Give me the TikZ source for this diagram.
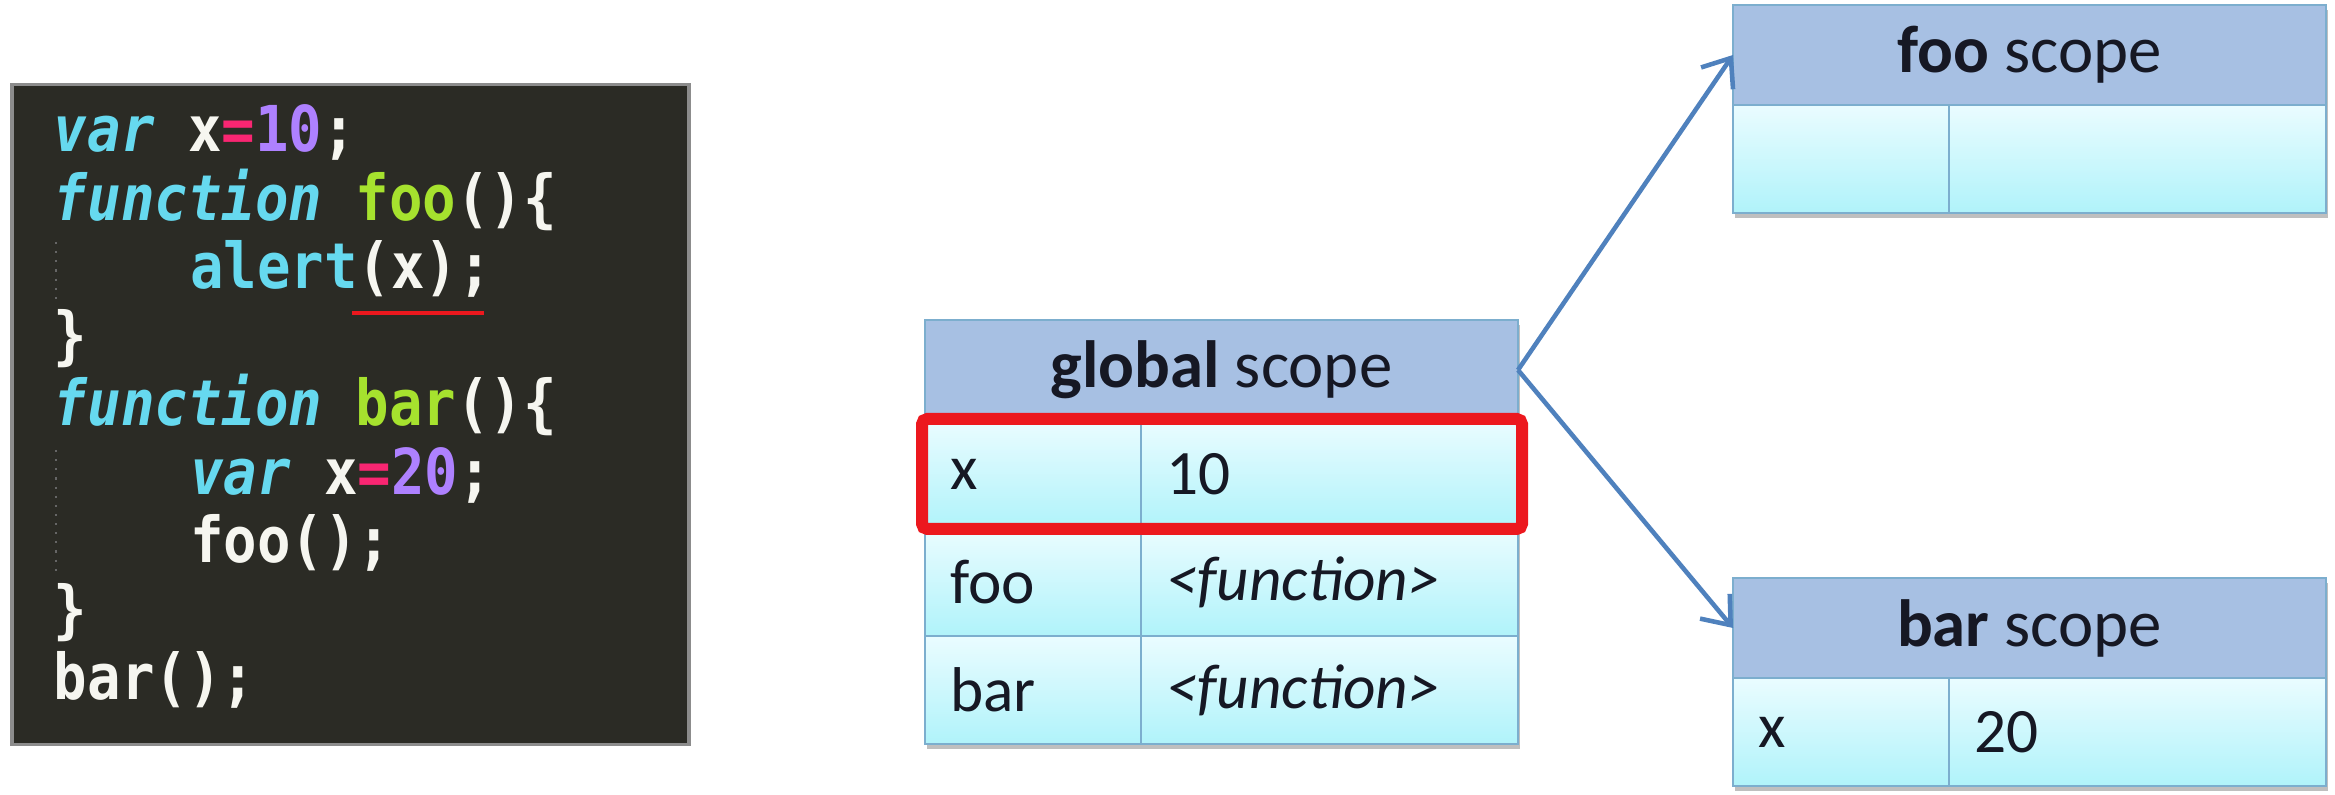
\documentclass[tikz,border=0pt]{standalone}
\usepackage{fontspec}
\usetikzlibrary{arrows.meta,shadows}
\newfontfamily\tabfont{Carlito}
\newfontfamily\codefont[FakeStretch=0.88,
  BoldFont={DejaVu Sans Mono Bold},
  ItalicFont={DejaVu Sans Mono Oblique},
  BoldItalicFont={DejaVu Sans Mono Bold Oblique}]{DejaVu Sans Mono}
% colours of the editor
\definecolor{codebg}{RGB}{43,43,37}
\definecolor{codewhite}{RGB}{246,246,240}
\definecolor{codekw}{RGB}{102,217,239}
\definecolor{codefn}{RGB}{166,226,46}
\definecolor{codeop}{RGB}{249,38,114}
\definecolor{codenum}{RGB}{174,129,255}
% colours of the tables
\definecolor{hdrblue}{RGB}{167,192,227}
\definecolor{celltop}{RGB}{234,252,255}
\definecolor{cellbot}{RGB}{176,243,250}
\definecolor{cellline}{RGB}{124,174,206}
\definecolor{celltext}{RGB}{22,24,36}
\definecolor{ptrblue}{RGB}{79,129,189}
\definecolor{hired}{RGB}{236,24,30}
\tikzset{
  codepanel/.style={anchor=north west, fill=codebg, draw=black!45, line width=1pt,
    minimum width=6.77cm, minimum height=6.60cm, inner sep=0pt},
  codeline/.style={anchor=base west, inner sep=0pt, outer sep=0pt, text=codewhite,
    font=\codefont\fontsize{18pt}{20pt}\selectfont\bfseries},
  guide/.style={draw=black!60, dotted, line width=0.6pt},
  underl/.style={draw=hired, line width=0.04cm},
  tabshade/.style={drop shadow={shadow xshift=0.02cm, shadow yshift=-0.05cm, opacity=0.25, fill=black}},
  hdr/.style={anchor=north west, draw=cellline, line width=0.8pt, fill=hdrblue,
    minimum width=5.93cm, minimum height=1.0cm, inner sep=0pt, outer sep=0pt,
    text=celltext, font=\tabfont\fontsize{19pt}{22pt}\selectfont, tabshade},
  keycell/.style={anchor=north west, draw=cellline, line width=0.8pt,
    top color=celltop, bottom color=cellbot, minimum height=1.08cm,
    text width=1.66cm, inner xsep=0.25cm, inner ysep=0pt, outer sep=0pt, align=left,
    text=celltext, font=\tabfont\fontsize{18pt}{21pt}\selectfont, tabshade},
  valcell/.style={keycell, text width=3.27cm},
  hilite/.style={draw=hired, line width=0.12cm, rounded corners=1.5pt},
  ptr/.style={draw=ptrblue, line width=1.3pt, -{Straight Barb[length=7pt,width=11pt,line width=1.3pt]}}
}
\newcommand{\kw}[1]{\textcolor{codekw}{#1}}
\newcommand{\fn}[1]{\textcolor{codefn}{#1}}
\newcommand{\op}[1]{\textcolor{codeop}{#1}}
\newcommand{\num}[1]{\textcolor{codenum}{#1}}
\begin{document}
\begin{tikzpicture}
\useasboundingbox (0,0) rectangle (23.35,7.95);

% Code panel
\node[codepanel] (code) at (0.10,7.12) {};

% Indent guides
\draw[guide] (0.56,5.53) -- (0.56,4.95);
\draw[guide] (0.56,3.45) -- (0.56,2.20);

% Code lines
\node[codeline] (l1) at (0.54,6.430) {\kw{\itshape var} x\op{=}\num{10};};
\node[codeline] (l2) at (0.54,5.745) {\kw{\itshape function} \fn{foo}()\{};
\node[codeline] (l3) at (1.90,5.060) {\kw{alert}(x);};
\node[codeline] (l4) at (0.54,4.375) {\}};
\node[codeline] (l5) at (0.54,3.690) {\kw{\itshape function} \fn{bar}()\{};
\node[codeline] (l6) at (1.90,3.005) {\kw{\itshape var} x\op{=}\num{20};};
\node[codeline] (l7) at (1.90,2.320) {foo();};
\node[codeline] (l8) at (0.54,1.635) {\}};
\node[codeline] (l9) at (0.54,0.950) {bar();};

% Underline of (x);
\draw[underl] (3.52,4.82) -- (4.84,4.82);

% Global scope table
\node[hdr] (ghdr) at (9.25,4.75) {\textbf{global} scope};
\node[keycell] (gxk) at (ghdr.south west) {x};
\node[valcell] (gxv) at (gxk.north east) {10};
\node[keycell] (gfk) at (gxk.south west) {foo};
\node[valcell] (gfv) at (gfk.north east) {\textit{<function>}};
\node[keycell] (gbk) at (gfk.south west) {bar};
\node[valcell] (gbv) at (gbk.north east) {\textit{<function>}};

% Highlight of x
\draw[hilite] ([xshift=-0.03cm,yshift=0.01cm]gxk.north west) rectangle ([xshift=0.04cm,yshift=-0.01cm]gxv.south east);

% foo scope table
\node[hdr] (fhdr) at (17.33,7.90) {\textbf{foo} scope};
\node[keycell] (fxk) at (fhdr.south west) {};
\node[valcell] (fxv) at (fxk.north east) {};

% bar scope table
\node[hdr] (bhdr) at (17.33,2.17) {\textbf{bar} scope};
\node[keycell] (bxk) at (bhdr.south west) {x};
\node[valcell] (bxv) at (bxk.north east) {20};

% Scope links
\draw[ptr] (ghdr.east) -- (fhdr.west);
\draw[ptr] (ghdr.east) -- (bhdr.west);
\end{tikzpicture}
\end{document}
